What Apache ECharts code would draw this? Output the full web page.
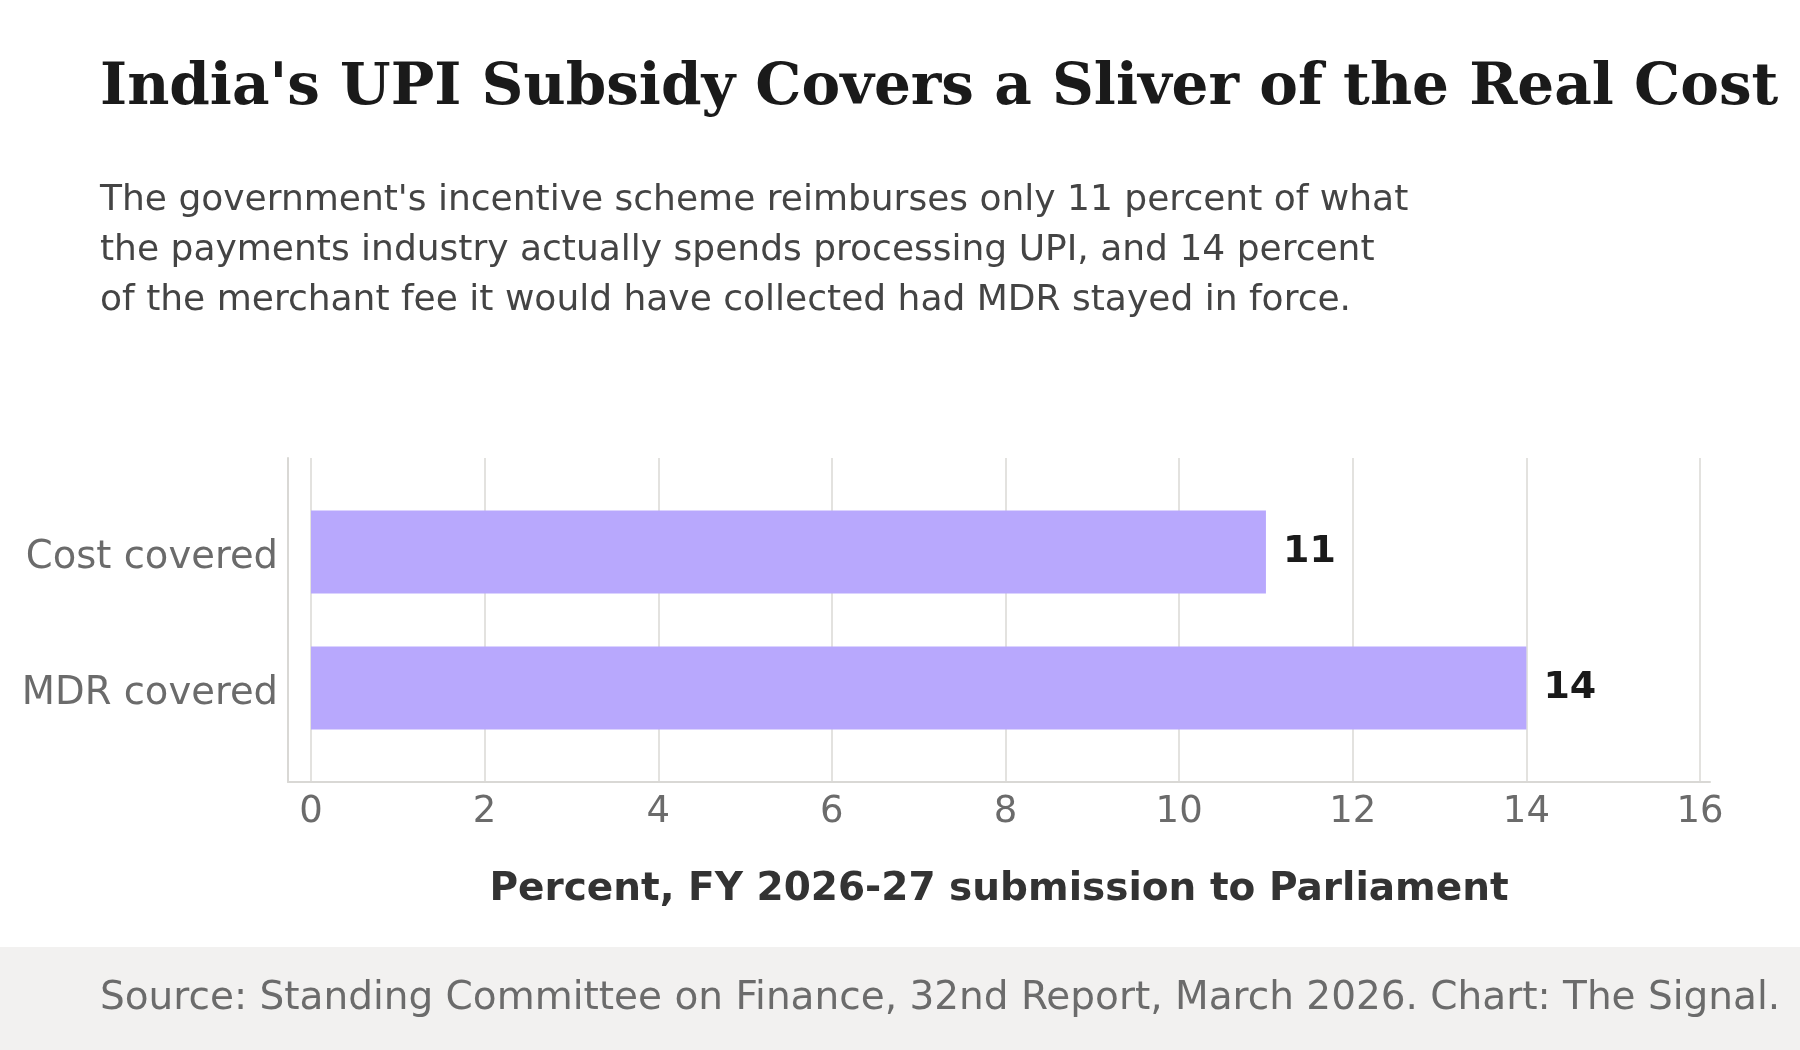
<!DOCTYPE html>
<html>
<head>
<meta charset="utf-8">
<script src="https://cdn.jsdelivr.net/npm/echarts@6/dist/echarts.min.js"></script>
<style>
  html, body { margin: 0; padding: 0; background: #ffffff; }
  #chart { width: 1800px; height: 1050px; }
</style>
</head>
<body>
<div id="chart"></div>
<script>
// data
var categories = ["Cost covered", "MDR covered"];
var values = [11, 14];
var xTicksMin = 0;
var xTicksMax = 16;
var xTickStep = 2;

var titleText = "India's UPI Subsidy Covers a Sliver of the Real Cost";
var subtitleText =
  "The government's incentive scheme reimburses only 11 percent of what\n" +
  "the payments industry actually spends processing UPI, and 14 percent\n" +
  "of the merchant fee it would have collected had MDR stayed in force.";
var axisTitle = "Percent, FY 2026-27 submission to Parliament";
var sourceText = "Source: Standing Committee on Finance, 32nd Report, March 2026. Chart: The Signal.";

var sans = "DejaVu Sans";
var serif = "DejaVu Serif";

var chart = echarts.init(document.getElementById("chart"), null, { renderer: "canvas" });

var option = {
  backgroundColor: "#ffffff",
  animation: false,
  graphic: [
    {
      type: "rect",
      left: 0,
      top: 947,
      shape: { width: 1800, height: 103 },
      style: { fill: "#f2f1f0" },
      z: -10,
    },
  ],
  title: [
    {
      text: titleText,
      left: 100,
      top: 60,
      padding: 0,
      textStyle: { fontFamily: serif, fontWeight: "bold", fontSize: 58, color: "#1a1a1a" },
    },
    {
      text: subtitleText,
      left: 100,
      top: 176,
      padding: 0,
      textStyle: { fontFamily: sans, fontWeight: "normal", fontSize: 36, lineHeight: 50, color: "#444444" },
    },
    {
      text: sourceText,
      left: 100,
      top: 979,
      padding: 0,
      textStyle: { fontFamily: sans, fontWeight: "normal", fontSize: 39, color: "#6b6b6b" },
    },
  ],
  grid: [
    // data grid
    { left: 311, right: 100, top: 484, bottom: 294 },
    // gridlines + tick labels
    { left: 311, right: 100, top: 458, bottom: 268 },
    // spines
    { left: 288, right: 90, top: 458, bottom: 268 },
  ],
  xAxis: [
    {
      gridIndex: 0,
      type: "value",
      min: xTicksMin,
      max: xTicksMax,
      interval: xTickStep,
      show: false,
    },
    {
      gridIndex: 1,
      type: "value",
      min: xTicksMin,
      max: xTicksMax,
      interval: xTickStep,
      axisLine: { show: false },
      axisTick: { show: false },
      splitLine: { show: true, lineStyle: { color: "#e3e2df", width: 2 } },
      axisLabel: { fontFamily: sans, fontSize: 37, color: "#6b6b6b", margin: 12 },
    },
    {
      gridIndex: 2,
      type: "value",
      min: 0,
      max: 1,
      axisLine: { show: true, onZero: false, lineStyle: { color: "#d9d8d5", width: 2 } },
      axisTick: { show: false },
      splitLine: { show: false },
      axisLabel: { show: false },
      name: axisTitle,
      nameLocation: "middle",
      nameGap: 88,
      nameTextStyle: { fontFamily: sans, fontWeight: "bold", fontSize: 39, color: "#333333" },
    },
  ],
  yAxis: [
    {
      gridIndex: 0,
      type: "category",
      data: categories,
      inverse: true,
      axisLine: { show: false },
      axisTick: { show: false },
      splitLine: { show: false },
      axisLabel: {
        fontFamily: sans,
        fontSize: 38.5,
        color: "#6b6b6b",
        margin: 33,
        formatter: function(v) {
          return "{c|" + v + "}";
        },
        rich: {
          c: {
            fontFamily: sans,
            fontSize: 38.5,
            color: "#6b6b6b",
            padding: [12, 0, 0, 0],
          },
        },
      },
    },
    {
      gridIndex: 1,
      type: "value",
      show: false,
    },
    {
      gridIndex: 2,
      type: "value",
      min: 0,
      max: 1,
      axisLine: { show: true, onZero: false, lineStyle: { color: "#d9d8d5", width: 2 } },
      axisTick: { show: false },
      splitLine: { show: false },
      axisLabel: { show: false },
    },
  ],
  series: [
    {
      type: "bar",
      xAxisIndex: 0,
      yAxisIndex: 0,
      data: values,
      barWidth: 83,
      itemStyle: { color: "#b8a8fd" },
      label: {
        show: true,
        position: "right",
        distance: 17,
        fontFamily: sans,
        fontWeight: "bold",
        fontSize: 38,
        color: "#1a1a1a",
      },
    },
  ],
};

chart.setOption(option);
</script>
</body>
</html>
